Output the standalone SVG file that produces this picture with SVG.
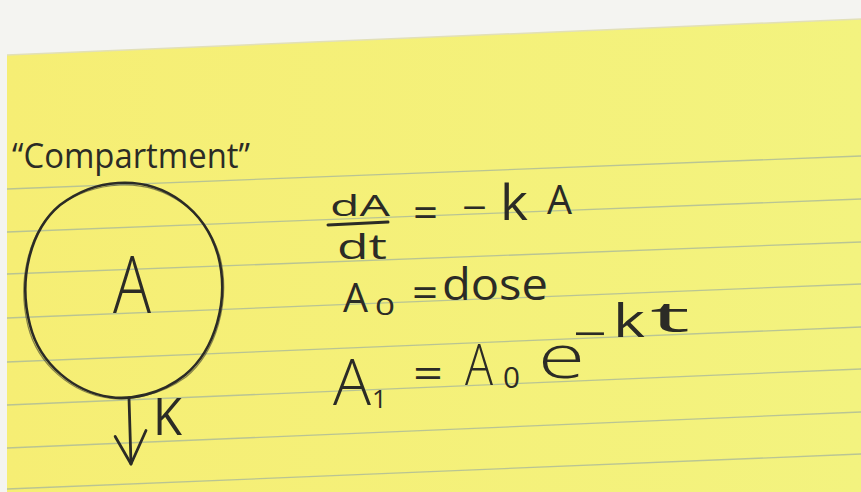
<svg xmlns="http://www.w3.org/2000/svg" width="861" height="492" viewBox="0 0 861 492">
<defs>
<style>
.rule{stroke:#aab99a;stroke-width:1.3;fill:none;opacity:.8}
.ink{fill:#2b2b26;font-family:"Open Sans","DejaVu Sans",sans-serif;font-weight:400}
.thin{font-weight:300}
.stroke{stroke:#2b2b26;fill:none;stroke-linecap:round;stroke-linejoin:round}
</style>
<marker id="vhead" markerUnits="userSpaceOnUse" markerWidth="40" markerHeight="40" refX="0" refY="0" orient="auto" overflow="visible">
<path d="M -28,15 L 0,0 L -33,-16" fill="none" stroke="#2b2b26" stroke-width="2.8" stroke-linecap="round" stroke-linejoin="round"/>
</marker>
<linearGradient id="yel" x1="0" y1="0" x2="1" y2="0">
<stop offset="0" stop-color="#f6ee74"/>
<stop offset="1" stop-color="#f3f37f"/>
</linearGradient>
</defs>

<g id="paper">
<rect x="0" y="0" width="861" height="492" fill="#f4f4f1"/>
<polygon points="7,55 861,19 861,492 7,492" fill="url(#yel)"/>
<line x1="7" y1="55" x2="861" y2="19" stroke="#e2e0b8" stroke-width="1.5"/>
<line class="rule" x1="7" y1="189" x2="861" y2="156"/>
<line class="rule" x1="7" y1="232" x2="861" y2="199"/>
<line class="rule" x1="7" y1="274" x2="861" y2="242"/>
<line class="rule" x1="7" y1="318" x2="861" y2="284"/>
<line class="rule" x1="7" y1="362" x2="861" y2="327"/>
<line class="rule" x1="7" y1="405" x2="861" y2="369"/>
<line class="rule" x1="7" y1="448" x2="861" y2="412"/>
<line class="rule" x1="7" y1="489" x2="861" y2="454"/>
</g>

<g id="label-compartment">
<text class="ink" x="12" y="168" font-size="34" textLength="238" lengthAdjust="spacingAndGlyphs">“Compartment”</text>
</g>

<g id="node-compartment">
<path class="stroke" stroke-width="2.6" d="M 118,183 C 165,180 205,210 218,255 C 230,300 215,350 185,375 C 160,395 130,400 110,397 C 75,392 40,365 30,325 C 18,280 30,230 60,205 C 80,190 100,184 118,183 Z"/>
<path class="stroke" stroke-width="1.2" opacity="0.55" d="M 120,185 C 166,183 207,212 220,257 C 231,302 216,352 186,377 C 160,396 128,401 108,398 C 73,393 38,366 28,326 C 17,282 28,232 58,207 C 79,191 101,186 120,185 Z"/>
<text class="ink thin" x="113" y="313" font-size="80" textLength="38" lengthAdjust="spacingAndGlyphs">A</text>
</g>

<g id="connectors">
<path class="stroke" stroke-width="2.8" d="M 129,398 L 131,464" marker-end="url(#vhead)"/>
</g>

<g id="label-k">
<text class="ink" x="153" y="435" font-size="52" textLength="29" lengthAdjust="spacingAndGlyphs">K</text>
</g>

<g id="eq-rate">
<text class="ink" x="330" y="216" font-size="30" textLength="60" lengthAdjust="spacingAndGlyphs">dA</text>
<line class="stroke" stroke-width="3" x1="328" y1="225" x2="388" y2="222"/>
<text class="ink" x="337" y="259" font-size="34" textLength="50" lengthAdjust="spacingAndGlyphs">dt</text>
<text class="ink" x="413" y="227" font-size="40" textLength="25" lengthAdjust="spacingAndGlyphs">=</text>
<text class="ink" x="462" y="222" font-size="40" textLength="25" lengthAdjust="spacingAndGlyphs">−</text>
<text class="ink" x="500" y="220" font-size="49" textLength="28" lengthAdjust="spacingAndGlyphs">k</text>
<text class="ink" x="547" y="214" font-size="40" textLength="25" lengthAdjust="spacingAndGlyphs">A</text>
</g>

<g id="eq-initial">
<text class="ink" x="343" y="312" font-size="40" textLength="25" lengthAdjust="spacingAndGlyphs">A</text>
<text class="ink" x="375" y="315" font-size="24" textLength="20" lengthAdjust="spacingAndGlyphs">0</text>
<text class="ink" x="412" y="307" font-size="40" textLength="26" lengthAdjust="spacingAndGlyphs">=</text>
<text class="ink" x="442" y="300" font-size="44" textLength="106" lengthAdjust="spacingAndGlyphs">dose</text>
</g>

<g id="eq-solution">
<text class="ink thin" x="333" y="405" font-size="64" textLength="38" lengthAdjust="spacingAndGlyphs">A</text>
<text class="ink" x="372" y="408" font-size="26">1</text>
<text class="ink" x="413" y="388" font-size="42" textLength="30" lengthAdjust="spacingAndGlyphs">=</text>
<text class="ink thin" x="465" y="385" font-size="57" textLength="28" lengthAdjust="spacingAndGlyphs">A</text>
<text class="ink" x="503" y="388" font-size="29" textLength="17" lengthAdjust="spacingAndGlyphs">0</text>
<text class="ink thin" x="538" y="378" font-size="60" textLength="47" lengthAdjust="spacingAndGlyphs">e</text>
<text class="ink" x="573" y="348" font-size="40" textLength="34" lengthAdjust="spacingAndGlyphs">−</text>
<text class="ink" x="613" y="337" font-size="45" textLength="32" lengthAdjust="spacingAndGlyphs">k</text>
<text class="ink" x="650" y="332" font-size="42" textLength="40" lengthAdjust="spacingAndGlyphs">t</text>
</g>
</svg>
